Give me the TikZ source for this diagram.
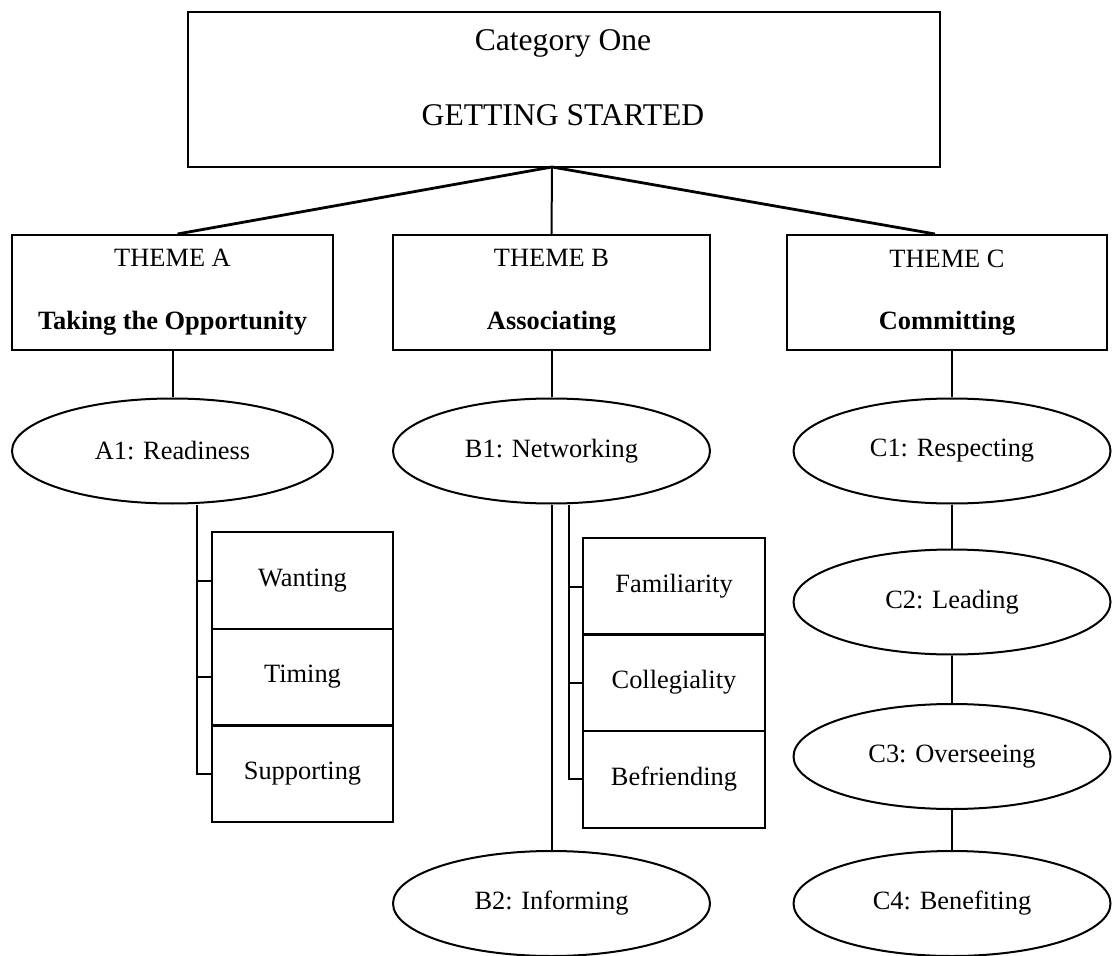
\documentclass[tikz,border=0pt]{standalone}
\usepackage{fontspec}
\setmainfont{Liberation Serif}
\usetikzlibrary{shapes.geometric}

\tikzset{
  base/.style={draw=black, line width=1pt, inner sep=0pt, align=center,
               font=\fontsize{13.2}{15.8}\selectfont},
  topbox/.style={base, rectangle, minimum width=376pt, minimum height=77.5pt},
  bigtext/.style={inner sep=0pt, font=\fontsize{15.8}{19}\selectfont},
  themebox/.style={base, rectangle, minimum height=57.5pt},
  oval/.style={base, ellipse, minimum width=158.5pt, minimum height=52.5pt},
  subbox/.style={base, rectangle, minimum width=90.5pt, minimum height=48.5pt},
  conn/.style={line width=1pt},
  slant/.style={line width=1.4pt},
}

\begin{document}
\begin{tikzpicture}[x=0.5pt, y=-0.5pt]
  \useasboundingbox (0,0) rectangle (1112,956);

  % category box
  \node[topbox] (top) at (564,89.5) {};
  \node[bigtext] (toptitle) at (563,43) {Category One};
  \node[bigtext] (topsub) at (563,115) {GETTING STARTED};
  \coordinate (J) at (552,167);

  % themes
  \node[themebox, minimum width=160.5pt] (thA) at (172.5,292.5)
       {THEME A\\[15.5pt]\textbf{Taking the Opportunity}};
  \node[themebox, minimum width=158.5pt] (thB) at (551.5,292.5)
       {THEME B\\[15.5pt]\textbf{Associating}};
  \node[themebox, minimum width=160pt] (thC) at (947,292.5)
       {THEME C\\[15.5pt]\textbf{Committing}};

  \draw[slant] (J) -- ([xshift=2.5pt]thA.north);
  \draw[conn] (J) -- (thB.north);
  \draw[slant] (J) -- ([xshift=-6pt]thC.north);

  % sub-themes
  \node[oval, minimum width=160.5pt] (A1) at (172.5,451) {A1: Readiness};
  \node[oval] (B1) at (551.5,451) {B1: Networking};
  \node[oval] (B2) at (551.5,903.5) {B2: Informing};
  \node[oval] (C1) at (952,451) {C1: Respecting};
  \node[oval] (C2) at (952,602) {C2: Leading};
  \node[oval] (C3) at (952,756.5) {C3: Overseeing};
  \node[oval] (C4) at (952,903.5) {C4: Benefiting};

  \draw[conn] (thA.south) -- (A1.north);
  \draw[conn] (thB.south) -- (B1.north);
  \draw[conn] (C1.north |- thC.south) -- (C1.north);
  \draw[conn] (C1) -- (C2);
  \draw[conn] (C2) -- (C3);
  \draw[conn] (C3) -- (C4);
  \draw[conn] (B1) -- (B2);

  % properties of A1
  \node[subbox] (aWant) at (302.5,580.5) {Wanting};
  \node[subbox] (aTime) at (302.5,677) {Timing};
  \node[subbox] (aSup)  at (302.5,773.5) {Supporting};
  \draw[conn] ([xshift=12.25pt]A1.south) |- (aSup.west);
  \draw[conn] (aWant.west) -- ++(-7.5pt,0);
  \draw[conn] (aTime.west) -- ++(-7.5pt,0);

  % properties of B1
  \node[subbox, minimum width=91pt] (bFam) at (674,586.5) {Familiarity};
  \node[subbox, minimum width=91pt] (bCol) at (674,682.5) {Collegiality};
  \node[subbox, minimum width=91pt] (bBef) at (674,779) {Befriending};
  \draw[conn] ([xshift=8.75pt]B1.south) |- (bBef.west);
  \draw[conn] (bFam.west) -- ++(-7pt,0);
  \draw[conn] (bCol.west) -- ++(-7pt,0);
\end{tikzpicture}
\end{document}
